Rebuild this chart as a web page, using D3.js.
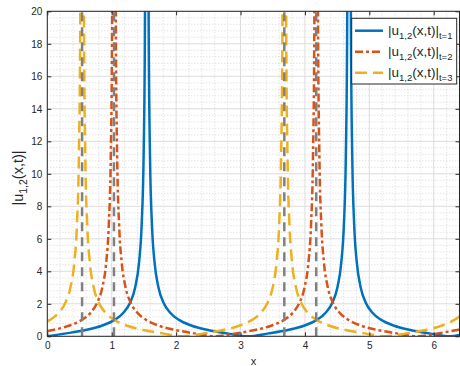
<!DOCTYPE html>
<html>
<head>
<meta charset="utf-8">
<script src="https://cdn.jsdelivr.net/npm/d3@7"></script>
<style>
  body { margin: 0; background: #fff; }
  text { font-family: "Liberation Sans", Arial, Helvetica, sans-serif; fill: #262626; }
</style>
</head>
<body>
<script>
// |u_{1,2}(x,t)|, null = break at a pole
var t1X = [0, 0.295, 0.595, 0.845, 1.045, 1.185, 1.285, 1.365, 1.425, 1.465, 1.495, 1.515, 1.525, null,
           1.565, 1.575, 1.595, 1.625, 1.665, 1.725, 1.805, 1.905, 2.045, 2.245, 2.495, 2.795, 3.115,
           3.435, 3.735, 3.985, 4.185, 4.325, 4.425, 4.505, 4.565, 4.605, 4.635, 4.655, 4.665, null,
           4.705, 4.715, 4.735, 4.765, 4.805, 4.865, 4.945, 5.045, 5.185, 5.385, 5.635, 5.935, 6.256, 6.4];
var t1Y = [0.01, 0.18, 0.39, 0.65, 1.01, 1.46, 2.07, 3.02, 4.56, 6.86, 11.0, 18.3, 27.5, null,
           27.5, 18.3, 11.0, 6.86, 4.56, 3.02, 2.07, 1.46, 1.01, 0.65, 0.39, 0.18, 0,
           0.18, 0.39, 0.65, 1.01, 1.46, 2.07, 3.02, 4.56, 6.86, 11.0, 18.3, 27.5, null,
           27.5, 18.3, 11.0, 6.86, 4.56, 3.02, 2.07, 1.46, 1.01, 0.65, 0.39, 0.18, 0, 0.08];

var t2X = [0, 0.085, 0.335, 0.535, 0.675, 0.775, 0.855, 0.915, 0.955, 0.985, 1.005, 1.015, null,
           1.055, 1.065, 1.085, 1.115, 1.155, 1.215, 1.295, 1.395, 1.535, 1.735, 1.985, 2.285, 2.606,
           2.925, 3.225, 3.475, 3.675, 3.815, 3.915, 3.995, 4.055, 4.095, 4.125, 4.145, 4.155, null,
           4.195, 4.205, 4.225, 4.255, 4.295, 4.355, 4.435, 4.535, 4.675, 4.875, 5.125, 5.425, 5.746,
           6.065, 6.365, 6.4];
var t2Y = [0.33, 0.39, 0.65, 1.01, 1.46, 2.07, 3.02, 4.56, 6.86, 11.0, 18.3, 27.5, null,
           27.5, 18.3, 11.0, 6.86, 4.56, 3.02, 2.07, 1.46, 1.01, 0.65, 0.39, 0.18, 0,
           0.18, 0.39, 0.65, 1.01, 1.46, 2.07, 3.02, 4.56, 6.86, 11.0, 18.3, 27.5, null,
           27.5, 18.3, 11.0, 6.86, 4.56, 3.02, 2.07, 1.46, 1.01, 0.65, 0.39, 0.18, 0,
           0.18, 0.39, 0.42];

var t3X = [0, 0.04, 0.18, 0.28, 0.36, 0.42, 0.46, 0.49, 0.51, 0.52, null,
           0.56, 0.57, 0.59, 0.62, 0.66, 0.72, 0.80, 0.90, 1.04, 1.24, 1.49, 1.79, 2.111,
           2.43, 2.73, 2.98, 3.18, 3.32, 3.42, 3.50, 3.56, 3.60, 3.63, 3.65, 3.66, null,
           3.70, 3.71, 3.73, 3.76, 3.80, 3.86, 3.94, 4.04, 4.18, 4.38, 4.63, 4.93, 5.251,
           5.57, 5.87, 6.12, 6.32, 6.4];
var t3Y = [0.915, 1.01, 1.46, 2.07, 3.02, 4.56, 6.86, 11.0, 18.3, 27.5, null,
           27.5, 18.3, 11.0, 6.86, 4.56, 3.02, 2.07, 1.46, 1.01, 0.65, 0.39, 0.18, 0,
           0.18, 0.39, 0.65, 1.01, 1.46, 2.07, 3.02, 4.56, 6.86, 11.0, 18.3, 27.5, null,
           27.5, 18.3, 11.0, 6.86, 4.56, 3.02, 2.07, 1.46, 1.01, 0.65, 0.39, 0.18, 0,
           0.18, 0.39, 0.65, 1.01, 1.21];

// dashed grey verticals at the poles
var poleX = [0.54, 1.035, 3.68, 4.175];

var xTicks = [0, 1, 2, 3, 4, 5, 6];
var yTicks = [0, 2, 4, 6, 8, 10, 12, 14, 16, 18, 20];
var tSub = ["t=1", "t=2", "t=3"];

var W = 460, H = 366;
var x = d3.scaleLinear().domain([0, 6.4]).range([47.3, 459.5]);
var y = d3.scaleLinear().domain([0, 20]).range([336.3, 11.3]);

var svg = d3.select("body").append("svg")
    .attr("width", W)
    .attr("height", H);

svg.append("rect").attr("width", W).attr("height", H).attr("fill", "#fff");

svg.append("clipPath")
    .attr("id", "plot-clip")
    .append("rect")
    .attr("x", x(0)).attr("y", y(20))
    .attr("width", x(6.4) - x(0))
    .attr("height", y(0) - y(20));

// minor grid (dotted)
var xMinor = d3.range(0, 6.41, 0.2).filter(function(v) { return Math.abs(v - Math.round(v)) > 1e-6; });
var yMinor = d3.range(0, 20.01, 0.4).filter(function(v) { return Math.abs(v / 2 - Math.round(v / 2)) > 1e-6; });

var grid = svg.append("g");
grid.selectAll(".xm").data(xMinor).enter().append("line")
    .attr("x1", function(d) { return x(d); }).attr("x2", function(d) { return x(d); })
    .attr("y1", y(0)).attr("y2", y(20))
    .attr("stroke", "#bdbdbd").attr("stroke-width", 0.6)
    .attr("stroke-dasharray", "1,2");
grid.selectAll(".ym").data(yMinor).enter().append("line")
    .attr("x1", x(0)).attr("x2", x(6.4))
    .attr("y1", function(d) { return y(d); }).attr("y2", function(d) { return y(d); })
    .attr("stroke", "#bdbdbd").attr("stroke-width", 0.6)
    .attr("stroke-dasharray", "1,2");

// major grid
grid.selectAll(".xg").data(xTicks).enter().append("line")
    .attr("x1", function(d) { return x(d); }).attr("x2", function(d) { return x(d); })
    .attr("y1", y(0)).attr("y2", y(20))
    .attr("stroke", "#dcdcdc").attr("stroke-width", 1);
grid.selectAll(".yg").data(yTicks).enter().append("line")
    .attr("x1", x(0)).attr("x2", x(6.4))
    .attr("y1", function(d) { return y(d); }).attr("y2", function(d) { return y(d); })
    .attr("stroke", "#dcdcdc").attr("stroke-width", 1);

function toPts(xs, ys) {
    return xs.map(function(v, i) { return [v, ys[i]]; });
}

var line = d3.line()
    .defined(function(d) { return d[1] !== null; })
    .x(function(d) { return x(d[0]); })
    .y(function(d) { return y(d[1]); })
    .curve(d3.curveMonotoneX);

var series = [
    {pts: toPts(t1X, t1Y), color: "#0072BD", dash: null},
    {pts: toPts(t2X, t2Y), color: "#D95319", dash: "8,3,3,3"},
    {pts: toPts(t3X, t3Y), color: "#EDB120", dash: "12,6"}
];

var plot = svg.append("g").attr("clip-path", "url(#plot-clip)");

series.forEach(function(s) {
    plot.append("path")
        .datum(s.pts)
        .attr("fill", "none")
        .attr("stroke", s.color)
        .attr("stroke-width", 2.5)
        .attr("stroke-dasharray", s.dash)
        .attr("d", line);
});

plot.selectAll(".pole").data(poleX).enter().append("line")
    .attr("x1", function(d) { return x(d); }).attr("x2", function(d) { return x(d); })
    .attr("y1", y(0)).attr("y2", y(20))
    .attr("stroke", "#808080").attr("stroke-width", 2.5)
    .attr("stroke-dasharray", "9,6");

// axes, ticks pointing in
var fmt = d3.format("d");
var axB = svg.append("g").attr("transform", "translate(0," + y(0) + ")")
    .call(d3.axisBottom(x).tickValues(xTicks).tickFormat(fmt).tickSizeInner(-4).tickSizeOuter(0).tickPadding(6));
var axL = svg.append("g").attr("transform", "translate(" + x(0) + ",0)")
    .call(d3.axisLeft(y).tickValues(yTicks).tickFormat(fmt).tickSizeInner(-4).tickSizeOuter(0).tickPadding(5));
var axT = svg.append("g").attr("transform", "translate(0," + y(20) + ")")
    .call(d3.axisTop(x).tickValues(xTicks).tickSizeInner(-4).tickSizeOuter(0).tickFormat(""));
var axR = svg.append("g").attr("transform", "translate(" + x(6.4) + ",0)")
    .call(d3.axisRight(y).tickValues(yTicks).tickSizeInner(-4).tickSizeOuter(0).tickFormat(""));

[axB, axL, axT, axR].forEach(function(a) {
    a.select(".domain").remove();
    a.selectAll(".tick line").attr("stroke", "#262626");
    a.selectAll("text").attr("fill", "#262626").style("font-size", "10px")
        .style("font-family", "'Liberation Sans', Arial, sans-serif");
});

svg.append("rect")
    .attr("x", x(0)).attr("y", y(20))
    .attr("width", x(6.4) - x(0)).attr("height", y(0) - y(20))
    .attr("fill", "none").attr("stroke", "#262626").attr("stroke-width", 1);

// axis labels
svg.append("text")
    .attr("x", (x(0) + x(6.4)) / 2).attr("y", 364.5)
    .attr("text-anchor", "middle")
    .style("font-size", "11px")
    .text("x");

var yl = svg.append("text")
    .attr("transform", "translate(22.5," + 178 + ") rotate(-90)")
    .attr("text-anchor", "middle")
    .style("font-size", "14.5px");
yl.append("tspan").text("|u");
yl.append("tspan").attr("dy", 4).style("font-size", "10.5px").text("1,2");
yl.append("tspan").attr("dy", -4).text("(x,t)|");

// legend
var lg = svg.append("g");
lg.append("rect")
    .attr("x", 351.7).attr("y", 18.3).attr("width", 105).attr("height", 65.7)
    .attr("fill", "#fff").attr("stroke", "#262626").attr("stroke-width", 1);

series.forEach(function(s, i) {
    var ly = 30.7 + i * 21;
    lg.append("line")
        .attr("x1", 355).attr("x2", 383).attr("y1", ly).attr("y2", ly)
        .attr("stroke", s.color).attr("stroke-width", 2.5)
        .attr("stroke-dasharray", s.dash);
    var t = lg.append("text")
        .attr("x", 388).attr("y", ly + 4)
        .style("font-size", "13.5px");
    t.append("tspan").text("|u");
    t.append("tspan").attr("dy", 4).style("font-size", "9.5px").text("1,2");
    t.append("tspan").attr("dy", -4).text("(x,t)|");
    t.append("tspan").attr("dy", 4).style("font-size", "9.5px").text(tSub[i]);
});
</script>
</body>
</html>
